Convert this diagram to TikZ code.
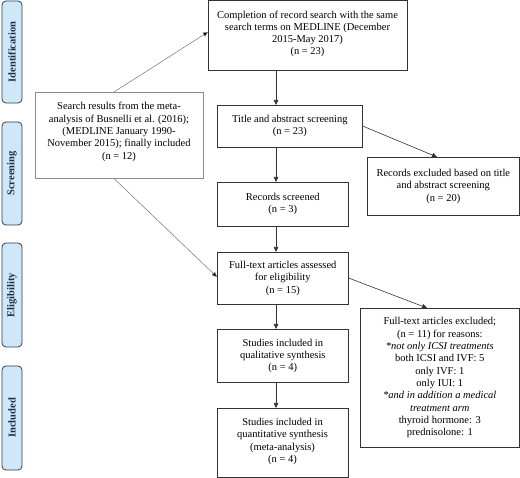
\documentclass[tikz,border=0pt]{standalone}
\usepackage{fontspec}
\setmainfont{Liberation Serif}
\usetikzlibrary{arrows.meta}
\definecolor{barfill}{HTML}{CFE8F8}
\definecolor{barline}{HTML}{2E3A4E}
\definecolor{bartext}{HTML}{1F2D4A}
\begin{document}
\begin{tikzpicture}[x=1pt,y=-1pt,
  every node/.style={font=\fontsize{10.5}{12.3}\selectfont},
  stage/.style={draw=barline,line width=0.8pt,fill=barfill,rounded corners=4pt},
  stagetext/.style={rotate=90,font=\fontsize{10.5}{12.3}\selectfont\bfseries,text=bartext},
  flowbox/.style={draw=black!80,line width=0.6pt,align=center,inner sep=0pt},
  sidebox/.style={draw=black!45,line width=0.6pt,align=center,inner sep=0pt},
  flowarrow/.style={draw=black!80,line width=0.6pt,-{Triangle[length=5pt,width=4.5pt]}},
  sidearrow/.style={draw=black!55,line width=0.5pt,-{Triangle[length=5pt,width=4.5pt,fill=black]}}]
\useasboundingbox (0,0) rectangle (520,478);
% stage bars
\draw[stage] (2,1) rectangle (22,103);
\node[stagetext] (sid) at (12,52) {Identification};
\draw[stage] (2,122) rectangle (22,225);
\node[stagetext] (ssc) at (12,173.5) {Screening};
\draw[stage] (2,243) rectangle (22,347);
\node[stagetext] (sel) at (12,295) {Eligibility};
\draw[stage] (2,366) rectangle (22,470);
\node[stagetext] (sin) at (12,418) {Included};
% boxes
\node[flowbox,minimum width=199pt,minimum height=70pt,anchor=north west] (top) at (208,0) {};
\node[anchor=north,align=center,inner sep=0pt] (toptext) at (307.5,10.5) {Completion of record search with the same\\search terms on MEDLINE (December\\2015-May 2017)\\(n = 23)};
\node[sidebox,minimum width=168pt,minimum height=86pt,anchor=north west] (left) at (35,92) {};
\node[anchor=center,align=center,inner sep=0pt] (lefttext) at (119,132) {Search results from the meta-\\analysis of Busnelli et al. (2016);\\(MEDLINE January 1990-\\November 2015); finally included\\(n = 12)};
\node[flowbox,minimum width=145pt,minimum height=42pt,anchor=north west] (title) at (217,105) {Title and abstract screening\\(n = 23)};
\node[flowbox,minimum width=131pt,minimum height=44pt,anchor=north west] (screened) at (217,182) {Records screened\\(n = 3)};
\node[flowbox,minimum width=131pt,minimum height=52pt,anchor=north west] (full) at (217,252) {Full-text articles assessed\\for eligibility\\(n = 15)};
\node[flowbox,minimum width=131pt,minimum height=53pt,anchor=north west] (qual) at (217,329) {Studies included in\\qualitative synthesis\\(n = 4)};
\node[flowbox,minimum width=131pt,minimum height=69pt,anchor=north west] (quant) at (217,408) {};
\node[anchor=north,align=center,inner sep=0pt] (quanttext) at (282.5,418) {Studies included in\\quantitative synthesis\\(meta-analysis)\\(n = 4)};
\node[flowbox,minimum width=152pt,minimum height=58pt,anchor=north west] (recex) at (367,157) {Records excluded based on title\\and abstract screening\\(n = 20)};
\node[flowbox,minimum width=159pt,minimum height=139pt,anchor=north west] (fullex) at (360,308) {Full-text articles excluded;\\(n = 11) for reasons:\\\textit{*not only ICSI treatments}\\both ICSI and IVF: 5\\only IVF: 1\\only IUI: 1\\\textit{*and in addition a medical}\\\textit{treatment arm}\\thyroid hormone: 3\\prednisolone: 1};
% arrows
\draw[flowarrow] (top.south -| 276,0) -- (title.north -| 276,0);
\draw[flowarrow] (title.south -| 276,0) -- (screened.north -| 276,0);
\draw[flowarrow] (screened.south -| 276,0) -- (full.north -| 276,0);
\draw[flowarrow] (full.south -| 276,0) -- (qual.north -| 276,0);
\draw[flowarrow] (qual.south -| 276,0) -- (quant.north -| 276,0);
\draw[flowarrow] (title.east |- 0,126) -- (recex.north -| 437,0);
\draw[flowarrow] (full.east |- 0,278) -- (fullex.north -| 427,0);
\draw[sidearrow] (left.north -| 114,0) -- (top.west |- 0,32);
\draw[sidearrow] (left.south -| 114,0) -- (full.west |- 0,277);
\end{tikzpicture}
\end{document}
